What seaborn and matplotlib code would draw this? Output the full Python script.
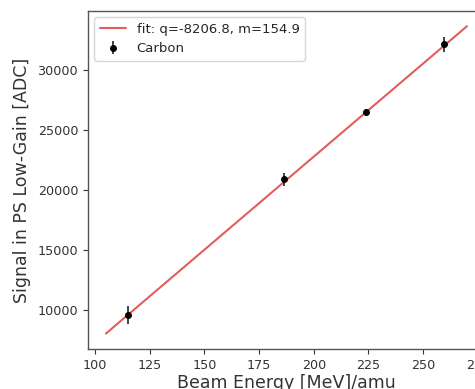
import numpy as np
import pandas as pd
import matplotlib
matplotlib.use("Agg")
import matplotlib.pyplot as plt
import seaborn as sns

energy = [115.2, 186.5, 224.0, 259.5]
signal = [9600, 20880, 26450, 32100]
signal_err = [750, 550, 300, 650]
fit_q = -8206.8
fit_m = 154.9
fit_x = [105, 270]
fit_y = [fit_q + fit_m * v for v in fit_x]

sns.set_theme(style="ticks")
plt.rcParams['font.family'] = ['DejaVu Sans']

fig = plt.figure(figsize=(4.75, 3.89), dpi=100)
ax = fig.add_axes([0.185, 0.103, 0.836, 0.869])

fit_df = pd.DataFrame({"x": fit_x, "y": fit_y})
sns.lineplot(data=fit_df, x="x", y="y", ax=ax, color="#e45c5c", linewidth=1.5,
             label=f"fit: q={fit_q}, m={fit_m}")
ax.errorbar(energy, signal, yerr=signal_err, fmt='o', color='black',
            ecolor='#222222', markersize=4, elinewidth=1.2, label="Carbon")

ax.set_xticks([100, 125, 150, 175, 200, 225, 250, 275])
ax.set_yticks([10000, 15000, 20000, 25000, 30000])
ax.tick_params(labelsize=9.2, colors='#333333', length=3.5, width=0.8)
ax.set_xlabel("Beam Energy [MeV]/amu", fontsize=12.5, color='#333333', labelpad=2)
ax.set_ylabel("Signal in PS Low-Gain [ADC]", fontsize=12.5, color='#333333', labelpad=5)
for s in ax.spines.values():
    s.set_color('#555555')
    s.set_linewidth(1.0)
ax.legend(loc='upper left', fontsize=9.5, frameon=True)

fig.savefig("out.png", dpi=100)
